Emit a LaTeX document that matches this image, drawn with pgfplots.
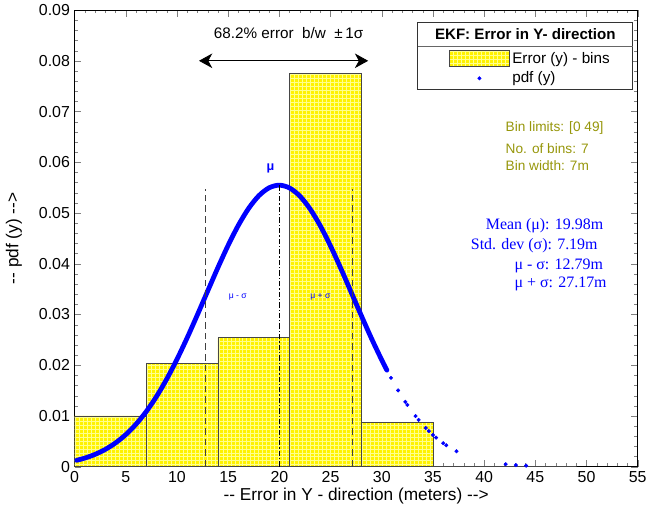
\documentclass[border=0pt]{standalone}
\usepackage{pgfplots}
\pgfplotsset{compat=1.18}
\usepackage{fontspec}
\setmainfont{Liberation Sans}
\newfontfamily\serifb{Liberation Serif}
\usetikzlibrary{patterns,arrows.meta,calc}
\definecolor{olivetext}{RGB}{150,150,10}
\definecolor{baredge}{RGB}{70,70,70}
\begin{document}
\begin{tikzpicture}
\begin{axis}[
  scale only axis,
  width=424.5pt, height=344.25pt,
  xmin=0, xmax=55, ymin=0, ymax=0.09,
  xtick={0,5,...,55},
  ytick={0,0.01,...,0.09},
  minor x tick num=4, minor y tick num=4,
  major tick length=5pt, minor tick length=2.5pt,
  tick align=inside,
  /pgf/number format/assume math mode=true,
  yticklabel style={/pgf/number format/fixed,/pgf/number format/precision=2},
  scaled y ticks=false,
  ticklabel style={font=\fontsize{12}{14}\selectfont},
  xlabel={{-}{-} Error in Y - direction (meters) {-}{-}>},
  ylabel={{-}{-} pdf (y) {-}{-}>},
  every axis x label/.style={at={(axis description cs:0.5,0)},anchor=center,yshift=-21.75pt,font=\fontsize{13}{15}\selectfont},
  every axis y label/.style={at={(axis description cs:-0.108,0.5)},rotate=90,anchor=center,font=\fontsize{13}{15}\selectfont},
  legend style={at={(axis description cs:0.6625,0.9172)},anchor=north west,draw=none,fill=none,
    font=\fontsize{11.5}{13}\selectfont,row sep=1pt,inner sep=1pt},
  legend cell align=left,
]
\coordinate (SW) at (rel axis cs:0,0);
\coordinate (NE) at (rel axis cs:1,1);
% histogram bars
\addplot[ybar interval, fill=yellow, draw=baredge, line width=0.5pt,
  postaction={pattern=grid, pattern color=yellow!45!white},
  legend image code/.code={\draw[fill=yellow,draw=baredge,postaction={pattern=grid,pattern color=yellow!45!white}] (0pt,-6pt) rectangle (45pt,6pt);}]
  coordinates {(0,0.0100) (7,0.0204) (14,0.0254) (21,0.0775) (28,0.0088) (35,0) (42,0) (49,0)};
\addlegendentry{Error (y) - bins}
% dense part of pdf
\addplot[blue, line width=3.6pt, smooth, line cap=round, forget plot] coordinates {
(0.2,0.001261) (1,0.0017022) (2,0.0024335) (3,0.0034128) (4,0.0046942) (5,0.0063327)
(6,0.0083800) (7,0.010877) (8,0.013846) (9,0.017288) (10,0.021175) (11,0.025436)
(12,0.029971) (13,0.034638) (14,0.039261) (15,0.043652) (16,0.047605) (17,0.050920)
(18,0.053421) (19,0.054973) (20,0.055486) (21,0.054931) (22,0.053339) (23,0.050801)
(24,0.047457) (25,0.043484) (26,0.039081) (27,0.034451) (28,0.029786) (29,0.025261)
(30,0.021011) (30.5,0.019025)};
% sparse tail points
\addplot[only marks, mark=*, mark size=1.3pt, color=blue,
  legend image code/.code={\fill[blue] (22.5pt,0pt) circle (1.3pt);}] coordinates {
(30.9,0.017509) (31.6,0.015034) (32.3,0.012784) (32.5,0.012183) (33.3,0.009976)
(33.6,0.009226) (34.3,0.007635) (34.6,0.007020) (35.0,0.006260) (35.3,0.005732)
(36.0,0.004636) (36.3,0.004222) (37.3,0.003048) (42.1,0.000489) (43.1,0.000316)
(44.1,0.000200)};
\addlegendentry{pdf (y)}
% sigma and mean lines
\addplot[black!75, dashed, dash pattern=on 5pt off 3pt, line width=0.7pt, forget plot] coordinates {(12.79,0) (12.79,0.0548)};
\addplot[black!75, dashed, dash pattern=on 5pt off 3pt, line width=0.7pt, forget plot] coordinates {(27.17,0) (27.17,0.0548)};
\addplot[black, dash pattern=on 4pt off 1.5pt on 1pt off 1.5pt, line width=0.8pt, forget plot] coordinates {(19.98,0) (19.98,0.0555)};
% arrow
\draw[{Stealth[length=10pt,width=11pt,inset=3pt]}-{Stealth[length=10pt,width=11pt,inset=3pt]}, line width=0.6pt]
  (axis cs:12.15,0.0800) -- (axis cs:28.67,0.0800);
\node[font=\fontsize{11.5}{13}\selectfont] at (axis cs:20.9,0.0855) {68.2\% error\ \ b/w\ \ ±\,1σ};
% mu labels
\node[blue, font=\fontsize{9.5}{10}\selectfont\bfseries] at (axis cs:19.14,0.0588) {μ};
\node[blue, font=\fontsize{6.5}{7}\selectfont] at (axis cs:15.94,0.0335) {μ - σ};
\node[blue, font=\fontsize{6.5}{7}\selectfont] at (axis cs:24.0,0.0335) {μ + σ};
% legend box
\draw[black!80, line width=0.6pt, fill=white] (axis description cs:0.6095,0.8257) rectangle (axis description cs:0.9912,0.9739);
\draw[black!60, line width=0.5pt] (axis description cs:0.6095,0.9216) -- (axis description cs:0.9912,0.9216);
\node[font=\fontsize{11.4}{12}\selectfont\bfseries] at (axis description cs:0.8004,0.9477) {EKF: Error in Y- direction};
% olive text
\node[olivetext, anchor=west, inner sep=0pt, font=\fontsize{10.3}{12}\selectfont] at (axis cs:42.08,0.0667) {Bin limits: [0 49]};
\node[olivetext, anchor=west, inner sep=0pt, font=\fontsize{10.3}{12}\selectfont] at (axis cs:42.08,0.0627) {No. of bins: 7};
\node[olivetext, anchor=west, inner sep=0pt, font=\fontsize{10.3}{12}\selectfont] at (axis cs:42.08,0.0594) {Bin width: 7m};
% blue serif text
\node[blue, anchor=west, inner sep=0pt, font=\serifb\fontsize{12}{14}\selectfont] at (axis cs:40.14,0.04745) {Mean (μ): 19.98m};
\node[blue, anchor=west, inner sep=0pt, font=\serifb\fontsize{12}{14}\selectfont] at (axis cs:38.68,0.04353) {Std. dev (σ): 7.19m};
\node[blue, anchor=west, inner sep=0pt, font=\serifb\fontsize{12}{14}\selectfont] at (axis cs:42.95,0.0396) {μ - σ: 12.79m};
\node[blue, anchor=west, inner sep=0pt, font=\serifb\fontsize{12}{14}\selectfont] at (axis cs:42.95,0.0361) {μ + σ: 27.17m};
\end{axis}
\path ($(SW)+(-56.25pt,-40.5pt)$) rectangle ($(NE)+(7.5pt,6.75pt)$);
\end{tikzpicture}
\end{document}
